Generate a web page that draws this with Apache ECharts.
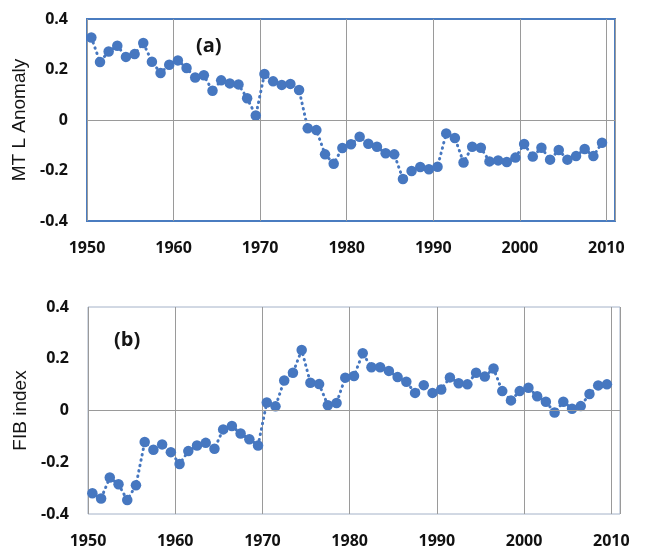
<!DOCTYPE html>
<html>
<head>
<meta charset="utf-8">
<script src="https://cdn.jsdelivr.net/npm/echarts@6/dist/echarts.min.js"></script>
<style>
html,body{margin:0;padding:0;background:#fff;}
#chart{width:645px;height:553px;}
</style>
</head>
<body>
<div id="chart"></div>
<script>
// Years (points plotted at mid-year)
const years = [1950,1951,1952,1953,1954,1955,1956,1957,1958,1959,
               1960,1961,1962,1963,1964,1965,1966,1967,1968,1969,
               1970,1971,1972,1973,1974,1975,1976,1977,1978,1979,
               1980,1981,1982,1983,1984,1985,1986,1987,1988,1989,
               1990,1991,1992,1993,1994,1995,1996,1997,1998,1999,
               2000,2001,2002,2003,2004,2005,2006,2007,2008,2009];
const midYearOffset = 0.5;

// (a) MT L Anomaly
const mtlAnomaly = [0.327,0.230,0.271,0.294,0.250,0.261,0.305,0.231,0.186,0.219,
                    0.236,0.206,0.168,0.177,0.116,0.157,0.145,0.141,0.086,0.018,
                    0.182,0.153,0.139,0.143,0.119,-0.033,-0.040,-0.136,-0.173,-0.111,
                    -0.096,-0.066,-0.094,-0.106,-0.132,-0.136,-0.234,-0.202,-0.186,-0.195,
                    -0.185,-0.053,-0.071,-0.168,-0.106,-0.110,-0.164,-0.160,-0.166,-0.149,
                    -0.095,-0.145,-0.110,-0.157,-0.119,-0.157,-0.143,-0.115,-0.143,-0.090];

// (b) FIB index
const fibIndex = [-0.320,-0.340,-0.259,-0.285,-0.346,-0.289,-0.122,-0.152,-0.131,-0.161,
                  -0.207,-0.157,-0.135,-0.125,-0.148,-0.073,-0.060,-0.089,-0.111,-0.135,
                  0.031,0.016,0.116,0.146,0.234,0.107,0.102,0.020,0.029,0.127,
                  0.133,0.221,0.167,0.167,0.153,0.129,0.111,0.068,0.098,0.068,
                  0.081,0.128,0.105,0.101,0.146,0.131,0.162,0.075,0.039,0.075,
                  0.088,0.055,0.034,-0.008,0.034,0.007,0.017,0.064,0.097,0.101];

const xTicks = [1950,1960,1970,1980,1990,2000,2010];
const yTicks = [-0.4,-0.2,0,0.2,0.4];
const panelLabels = ['(a)','(b)'];
const yNames = ['MT L Anomaly','FIB index'];

const blue = '#4677c0';
const gridGray = '#9a9a9a';
const labelFont = {fontFamily:'Open Sans', fontWeight:'bold', fontSize:16, color:'#111111'};

function pairs(vals){ return vals.map((v,i)=>[years[i]+midYearOffset, v]); }

function xAxis(gridIndex){
  return {
    type:'value', gridIndex, min:xTicks[0], max:2011, interval:10,
    axisLine:{show:false}, axisTick:{show:false},
    axisLabel:Object.assign({margin:19, formatter:v=> (xTicks.indexOf(v)>=0 ? String(v) : '')}, labelFont),
    splitLine:{show:true, lineStyle:{color:gridGray, width:1}}
  };
}
function yAxis(gridIndex, name){
  return {
    type:'value', gridIndex, min:yTicks[0], max:yTicks[yTicks.length-1], interval:0.2,
    name, nameLocation:'middle', nameGap:55, nameRotate:90,
    nameTextStyle:{fontFamily:'Liberation Sans', fontSize:19, color:'#151515'},
    axisLine:{show:false}, axisTick:{show:false},
    axisLabel:Object.assign({margin:19, formatter:v=>String(Math.round(v*10)/10)}, labelFont),
    splitLine:{show:false}
  };
}
function zeroLine(idx){
  return {
    type:'line', xAxisIndex:idx, yAxisIndex:idx, data:[], z:1, silent:true,
    markLine:{silent:true, symbol:'none', label:{show:false},
      lineStyle:{type:'solid', color:gridGray, width:1},
      data:[{yAxis:0}], animation:false}
  };
}
function dataSeries(idx, vals){
  return {
    type:'line', xAxisIndex:idx, yAxisIndex:idx, data:pairs(vals), z:3,
    symbol:'circle', symbolSize:10.5, showSymbol:true,
    itemStyle:{color:blue},
    lineStyle:{color:blue, width:3, type:[0.5,5], cap:'round'},
    animation:false
  };
}

const chart = echarts.init(document.getElementById('chart'), null, {renderer:'canvas'});
chart.setOption({
  backgroundColor:'#ffffff',
  animation:false,
  grid:[
    {left:87, top:19, width:528, height:202, show:true, borderColor:'#4a7cc0', borderWidth:2, backgroundColor:'transparent'},
    {left:88, top:307, width:532, height:207, show:true, borderColor:'#a4b2c8', borderWidth:1, backgroundColor:'transparent'}
  ],
  xAxis:[xAxis(0), xAxis(1)],
  yAxis:[yAxis(0, yNames[0]), yAxis(1, yNames[1])],
  title:[
    {text:panelLabels[0], left:191, top:31, textStyle:{fontFamily:'Open Sans', fontWeight:'bold', fontSize:20, color:'#151515'}},
    {text:panelLabels[1], left:109, top:325, textStyle:{fontFamily:'Open Sans', fontWeight:'bold', fontSize:20, color:'#151515'}}
  ],
  series:[zeroLine(0), zeroLine(1), dataSeries(0, mtlAnomaly), dataSeries(1, fibIndex)]
});
</script>
</body>
</html>
